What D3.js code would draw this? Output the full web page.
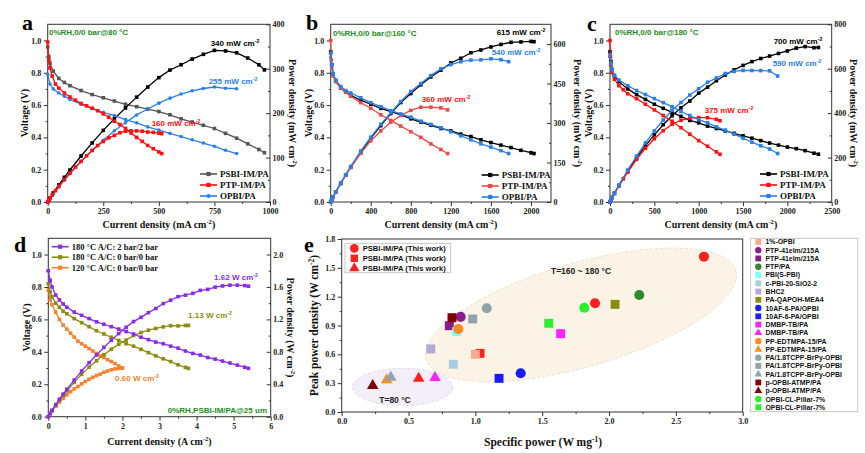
<!DOCTYPE html>
<html><head><meta charset="utf-8">
<script src="https://cdn.jsdelivr.net/npm/d3@7"></script>
<style>body{margin:0;background:#fff}svg{display:block}</style>
</head><body><svg id="c" width="865" height="453"></svg>
<script>
// ---------------- DATA ----------------
// Panel a (80 °C)
const aPsbiI = [0,5,10,25,50,75,100,150,200,250,300,350,400,450,500,550,600,650,700,750,800,850,900,950,975];
const aPsbiV = [0.96,0.90,0.86,0.81,0.765,0.74,0.72,0.69,0.665,0.645,0.625,0.605,0.59,0.575,0.56,0.54,0.515,0.495,0.475,0.455,0.425,0.395,0.36,0.325,0.305];
const aPsbiP = [0,4.5,8.6,20.3,38.3,55.5,72,103.5,133,161.3,187.5,211.8,236,258.8,280,297,309,321.8,332.5,341.3,340,335.8,324,308.8,297.4];
const aPtpI = [0,5,10,20,35,50,75,100,125,150,175,200,225,250,275,300,325,350,375,400,425,450,475,500,513];
const aPtpV = [0.99,0.88,0.83,0.78,0.73,0.705,0.675,0.65,0.63,0.61,0.595,0.58,0.565,0.545,0.525,0.50,0.48,0.455,0.427,0.40,0.375,0.35,0.33,0.31,0.30];
const aPtpP = [0,4.4,8.3,15.6,25.6,35.3,50.6,65,78.8,91.5,104.1,116,127.1,136.3,144.4,150,156,159.3,160.1,160,159.4,157.5,156.8,155,153.9];
const aOpbiI = [0,10,25,50,75,100,150,200,250,300,350,400,450,500,550,600,650,700,750,800,850];
const aOpbiV = [0.79,0.73,0.70,0.675,0.655,0.635,0.605,0.58,0.555,0.535,0.51,0.49,0.465,0.445,0.425,0.405,0.385,0.365,0.345,0.32,0.30];
const aOpbiP = [0,7.3,17.5,33.8,49.1,63.5,90.8,116,138.8,160.5,178.5,196,209.3,222.5,233.8,243,250.3,255.5,258.8,256,255];
// Panel b (160 °C)
const bPsbiI = [0,10,25,50,100,150,200,300,400,500,600,700,800,900,1000,1100,1200,1300,1400,1500,1600,1700,1800,1900,2000,2030];
const bPsbiV = [0.93,0.85,0.79,0.75,0.705,0.68,0.66,0.63,0.605,0.58,0.56,0.54,0.515,0.495,0.475,0.455,0.44,0.42,0.405,0.385,0.368,0.352,0.337,0.32,0.305,0.30];
const bPsbiP = [0,8.5,19.8,37.5,70.5,102,132,189,242,290,336,378,412,445.5,475,500.5,528,546,567,577.5,588.8,598.4,606.6,608,610,609];
const bPtpI = [0,5,10,25,50,100,150,200,300,400,500,600,700,800,900,1000,1100,1167];
const bPtpV = [1.0,0.88,0.83,0.78,0.745,0.705,0.68,0.655,0.615,0.58,0.54,0.505,0.47,0.435,0.40,0.36,0.325,0.30];
const bPtpP = [0,4.4,8.3,19.5,37.3,70.5,102,131,184.5,232,270,303,329,348,360,360,357.5,350];
const bOpbiI = [0,10,25,50,100,150,200,300,400,500,600,700,800,900,1000,1100,1200,1300,1400,1500,1600,1700,1777];
const bOpbiV = [0.92,0.85,0.795,0.755,0.715,0.69,0.675,0.645,0.615,0.59,0.565,0.545,0.525,0.50,0.48,0.46,0.435,0.41,0.385,0.36,0.34,0.318,0.30];
const bOpbiP = [0,8.5,19.9,37.8,71.5,103.5,135,193.5,246,295,339,381.5,420,450,480,506,522,533,539,540,544,540.6,533.1];
// Panel c (180 °C)
const cPsbiI = [0,10,25,50,100,200,300,400,500,600,700,800,900,1000,1100,1200,1300,1400,1500,1600,1700,1800,1900,2000,2100,2200,2300,2350];
const cPsbiV = [0.93,0.87,0.82,0.78,0.745,0.70,0.665,0.635,0.605,0.58,0.555,0.53,0.505,0.49,0.47,0.455,0.44,0.425,0.41,0.395,0.38,0.365,0.352,0.34,0.33,0.318,0.302,0.296];
const cPsbiP = [0,8.7,20.5,39,74.5,140,199.5,254,302.5,348,388.5,424,454.5,490,517,546,572,595,615,632,646,657,668.8,680,693,699.6,694.6,695.6];
const cPtpI = [0,5,10,25,50,100,150,200,300,400,500,600,700,800,900,1000,1100,1200,1240];
const cPtpV = [1.0,0.90,0.85,0.80,0.76,0.72,0.695,0.67,0.64,0.605,0.57,0.535,0.50,0.46,0.42,0.38,0.345,0.31,0.295];
const cPtpP = [0,4.5,8.5,20,38,72,104.3,134,192,242,285,321,350,368,378,380,379.5,372,365.8];
const cOpbiI = [0,10,25,50,100,200,300,400,500,600,700,800,900,1000,1100,1200,1300,1400,1500,1600,1700,1800,1890];
const cOpbiV = [0.91,0.86,0.82,0.785,0.755,0.72,0.69,0.665,0.64,0.615,0.59,0.56,0.535,0.51,0.49,0.465,0.445,0.42,0.395,0.37,0.348,0.328,0.30];
const cOpbiP = [0,8.6,20.5,39.3,75.5,144,207,266,320,369,413,448,481.5,510,539,558,578.5,588,592.5,592,591.6,590.4,567];
// Panel d (A cm-2, V, W cm-2)
const dP2I = [0,0.05,0.1,0.2,0.3,0.4,0.5,0.7,0.9,1.1,1.3,1.5,1.7,1.9,2.1,2.3,2.5,2.7,2.9,3.1,3.3,3.5,3.7,3.9,4.1,4.3,4.5,4.7,4.9,5.1,5.3,5.4];
const dP2V = [0.90,0.84,0.80,0.75,0.72,0.695,0.675,0.645,0.625,0.605,0.585,0.57,0.555,0.54,0.525,0.51,0.49,0.475,0.46,0.45,0.435,0.423,0.405,0.39,0.38,0.365,0.355,0.343,0.331,0.318,0.305,0.298];
const dP2P = [0,0.042,0.08,0.15,0.216,0.278,0.338,0.452,0.563,0.666,0.761,0.855,0.944,1.026,1.103,1.173,1.225,1.283,1.334,1.395,1.436,1.481,1.499,1.521,1.558,1.570,1.598,1.612,1.622,1.622,1.617,1.609];
const dO0I = [0,0.05,0.1,0.2,0.3,0.4,0.5,0.7,0.9,1.1,1.3,1.5,1.7,1.9,2.1,2.3,2.5,2.7,2.9,3.1,3.3,3.5,3.7,3.78];
const dO0V = [0.82,0.77,0.74,0.70,0.675,0.65,0.635,0.605,0.58,0.555,0.53,0.51,0.49,0.47,0.45,0.435,0.415,0.395,0.375,0.357,0.34,0.32,0.304,0.298];
const dO0P = [0,0.039,0.074,0.14,0.203,0.26,0.318,0.424,0.522,0.611,0.689,0.765,0.833,0.893,0.945,1.001,1.038,1.067,1.088,1.107,1.122,1.12,1.125,1.126];
const dT120I = [0,0.05,0.1,0.2,0.3,0.4,0.5,0.6,0.7,0.8,0.9,1.0,1.1,1.2,1.3,1.4,1.5,1.6,1.7,1.8,1.9,2.0];
const dT120V = [0.78,0.72,0.69,0.645,0.60,0.565,0.54,0.515,0.49,0.465,0.45,0.435,0.42,0.405,0.39,0.375,0.365,0.352,0.34,0.328,0.313,0.30];
const dT120P = [0,0.036,0.069,0.129,0.18,0.226,0.27,0.309,0.343,0.372,0.405,0.435,0.462,0.486,0.507,0.525,0.548,0.563,0.578,0.590,0.595,0.60];
// Series names and peak labels
const abcNames = ["PSBI-IM/PA","PTP-IM/PA","OPBI/PA"];
const dNames = ["180 °C A/C: 2 bar/2 bar","180 °C A/C: 0 bar/0 bar","120 °C A/C: 0 bar/0 bar"];
const aPeaks = ["340","255","160"], bPeaks = ["615","540","360"], cPeaks = ["700","590","375"], dPeaks = ["1.62","1.13","0.60"];
const condLabels = ["0%RH,0/0 bar@80 °C","0%RH,0/0 bar@160 °C","0%RH,0/0 bar@180 °C","0%RH,PSBI-IM/PA@25 um"];
// Panel e
const eThisX = [2.71,1.895,1.035,0.576];
const eThisY = [1.616,1.131,0.61,0.35];
const eThisShape = ["circle","circle","square","triangle"];
const eThisLegend = ["PSBI-IM/PA (This work)","PSBI-IM/PA (This work)","PSBI-IM/PA (This work)"];
const eRefNames = ["1%-OPBI","PTP-41elm/215A","PTP-41elm/215A","PTP/PA","PBI(S-PBI)","c-PBI-20-SiO2-2","BHC2","PA-QAPOH-MEA4","10AF-6-PA/OPBI","10AF-6-PA/OPBI","DMBP-TB/PA","DMBP-TB/PA","PP-EDTMPA-15/PA","PP-EDTMPA-15/PA","PA/1.8TCPP-BrPy-OPBI","PA/1.8TCPP-BrPy-OPBI","PA/1.8TCPP-BrPy-OPBI","p-OPBI-ATMP/PA","p-OPBI-ATMP/PA","OPBI-CL-Pillar-7%","OPBI-CL-Pillar-7%"];
const eRefShapes = ["square","circle","square","circle","square","square","square","square","circle","square","square","triangle","circle","triangle","circle","square","triangle","square","triangle","circle","square"];
const eRefColors = ["#f9a98c","#8b1c8b","#861e86","#2e8b2e","#80ffff","#a8cce0","#b4a8d4","#8c8c14","#1a1aff","#1a1aff","#ff22ff","#ff22ff","#ff8c1a","#ff8c1a","#8fa4aa","#8fa4aa","#8fa4b4","#800000","#800000","#2aef2a","#2aef2a"];
const eRefX = [1.0,0.89,0.805,2.226,0.86,0.835,0.666,2.045,1.339,1.177,1.638,0.698,0.873,0.337,1.085,0.98,0.367,0.825,0.232,1.815,1.549];
const eRefY = [0.60,0.99,0.898,1.217,0.836,0.496,0.656,1.12,0.403,0.35,0.815,0.357,0.864,0.333,1.079,0.968,0.361,0.981,0.274,1.085,0.923];
const eZoneLabels = ["T=160 ~ 180 °C","T=80 °C"];
const eZoneCx = [1.79,0.456], eZoneCy = [1.01,0.26];

// ---------------- DRAWING ----------------
const FS = "'Liberation Serif','Times New Roman',serif";
const SS = "'Liberation Sans',Arial,Helvetica,sans-serif";
const svg = d3.select("#c");
svg.append("rect").attr("width",865).attr("height",453).attr("fill","#fff");

function rich(g, x, y, segs, size, color, anchor, family, rot) {
  const t = g.append("text").attr("font-family", family).attr("font-weight","bold")
    .attr("font-size", size).attr("fill", color).attr("text-anchor", anchor || "start");
  if (rot) t.attr("transform", `translate(${x},${y}) rotate(${rot})`);
  else t.attr("x", x).attr("y", y);
  let up = false;
  segs.forEach(s => {
    const isSup = s[1];
    const ts = t.append("tspan").text(s[0]);
    if (isSup && !up) { ts.attr("dy", -size*0.38).attr("font-size", size*0.65); up = true; }
    else if (isSup) { ts.attr("font-size", size*0.65); }
    else if (up) { ts.attr("dy", size*0.38); up = false; }
  });
  return t;
}

function axis(g, scale, orient, pos, ticks, minor, fmt, fsz) {
  const mk = orient === "bottom" ? d3.axisBottom : orient === "left" ? d3.axisLeft : d3.axisRight;
  const tr = orient === "bottom" ? `translate(0,${pos})` : `translate(${pos},0)`;
  const inward = orient === "right";
  const a = g.append("g").attr("transform", tr).call(mk(scale).tickValues(ticks).tickSize(inward ? -4 : 4).tickPadding(2.5).tickFormat(fmt));
  a.select(".domain").remove();
  a.selectAll("line").attr("stroke", "#333");
  a.selectAll("text").attr("font-family", FS).attr("font-weight", "bold").attr("font-size", fsz).attr("fill", "#222");
  const b = g.append("g").attr("transform", tr).call(mk(scale).tickValues(minor).tickSize(inward ? -2 : 2).tickFormat(""));
  b.select(".domain").remove();
  b.selectAll("line").attr("stroke", "#333");
}

function marks(g, pts, color, shape, size, lw) {
  g.append("path").attr("d", d3.line()(pts)).attr("fill","none").attr("stroke",color).attr("stroke-width",lw);
  if (shape === "circle") {
    g.selectAll(null).data(pts).enter().append("circle")
      .attr("cx", p => p[0]).attr("cy", p => p[1]).attr("r", size/2).attr("fill", color);
  } else {
    g.selectAll(null).data(pts).enter().append("rect")
      .attr("x", p => p[0]-size/2).attr("y", p => p[1]-size/2).attr("width", size).attr("height", size).attr("fill", color);
  }
}

function dualPanel(c) {
  const g = svg.append("g");
  const x = d3.scaleLinear().domain(c.xDomain).range([c.left, c.right]);
  const yV = d3.scaleLinear().domain([0, 1.1]).range([c.bottom, c.top]);
  const yP = d3.scaleLinear().domain(c.pDomain).range([c.bottom, c.top]);
  axis(g, x, "bottom", c.bottom, c.xTicks, c.xMinor, c.xFmt, 8);
  axis(g, yV, "left", c.left, [0,0.2,0.4,0.6,0.8,1.0], [0.1,0.3,0.5,0.7,0.9], d3.format(".1f"), 8);
  axis(g, yP, "right", c.right, c.pTicks, c.pMinor, c.pFmt, 8);
  g.append("rect").attr("x", c.left).attr("y", c.top).attr("width", c.right-c.left).attr("height", c.bottom-c.top)
    .attr("fill","none").attr("stroke","#333").attr("stroke-width",1);
  c.series.forEach(s => {
    marks(g, s.I.map((d,i) => [x(d), yV(s.V[i])]), s.vColor, s.shape, 3.6, 1.3);
    marks(g, s.I.map((d,i) => [x(d), yP(s.P[i])]), s.pColor, s.shape, 3.6, 1.3);
  });
  // legend
  c.legendOrder.forEach((si, k) => {
    const s = c.series[si];
    const ly = c.legY + k*c.legDy;
    g.append("line").attr("x1", c.legX).attr("x2", c.legX+17).attr("y1", ly).attr("y2", ly).attr("stroke", s.vColor).attr("stroke-width", 1.6);
    marks(g, [[c.legX+8.5, ly]], s.vColor, s.shape, 4.2, 0);
    g.append("text").attr("x", c.legX+20).attr("y", ly+3).attr("font-family", FS).attr("font-weight","bold")
      .attr("font-size", c.legFs).attr("fill", "#111").text(s.name);
  });
  // peaks
  c.peaks.forEach(p => rich(g, p.x, p.y, [[p.text + (c.unit), false], ["-2", true]], 8, p.color, "middle", SS));
  // condition
  g.append("text").attr("x", c.condX).attr("y", c.condY).attr("font-family", SS).attr("font-weight","bold")
    .attr("font-size", 8).attr("fill", "#1e8c1e").attr("text-anchor", c.condAnchor).text(c.cond);
  // letter
  g.append("text").attr("x", c.letterX).attr("y", c.letterY).attr("font-family", FS).attr("font-weight","bold")
    .attr("font-size", 22).attr("fill", "#000").text(c.letter);
  // axis labels
  const mid = (c.top + c.bottom)/2;
  rich(g, c.vLabX, mid, [["Voltage (V)", false]], 10, "#111", "middle", FS, -90);
  rich(g, c.pLabX, mid, [[c.pLabel, false], ["-2", true], [")", false]], 10, "#111", "middle", FS, 90);
  rich(g, (c.left+c.right)/2, c.xLabY, [[c.xLabel, false], ["-2", true], [")", false]], 10, "#111", "middle", FS);
}

const RED = "#ff1010", BLUE = "#2b7fe6";
const fmtD = d3.format("d"), fmt1 = d3.format(".1f");

dualPanel({letter:"a", letterX:22, letterY:30, left:47.7, right:270, top:24.3, bottom:202,
  xDomain:[0,1000], xTicks:[0,250,500,750,1000], xMinor:[125,375,625,875], xFmt:fmtD,
  pDomain:[0,400], pTicks:[0,100,200,300,400], pMinor:[50,150,250,350], pFmt:fmtD,
  series:[
    {name:abcNames[0], I:aPsbiI, V:aPsbiV, P:aPsbiP, vColor:"#555555", pColor:"#000", shape:"square"},
    {name:abcNames[2], I:aOpbiI, V:aOpbiV, P:aOpbiP, vColor:BLUE, pColor:BLUE, shape:"circle"},
    {name:abcNames[1], I:aPtpI, V:aPtpV, P:aPtpP, vColor:RED, pColor:RED, shape:"square"}],
  legendOrder:[0,2,1], legX:200, legY:174, legDy:11, legFs:9,
  unit:" mW cm",
  peaks:[{text:aPeaks[0], x:235, y:46, color:"#000"},{text:aPeaks[1], x:233, y:84, color:BLUE},{text:aPeaks[2], x:176, y:126, color:RED}],
  cond:condLabels[0], condX:49, condY:35, condAnchor:"start",
  vLabX:28, pLabX:289, xLabY:228, pLabel:"Power density (mW cm", xLabel:"Current density (mA cm"});

const RED_B = "#f04848";
dualPanel({letter:"b", letterX:306, letterY:30, left:330.7, right:551, top:24.3, bottom:202,
  xDomain:[0,2200], xTicks:[0,400,800,1200,1600,2000], xMinor:[200,600,1000,1400,1800], xFmt:fmtD,
  pDomain:[0,675], pTicks:[0,150,300,450,600], pMinor:[75,225,375,525], pFmt:fmtD,
  series:[
    {name:abcNames[0], I:bPsbiI, V:bPsbiV, P:bPsbiP, vColor:"#000", pColor:"#000", shape:"square"},
    {name:abcNames[1], I:bPtpI, V:bPtpV, P:bPtpP, vColor:RED_B, pColor:RED_B, shape:"square"},
    {name:abcNames[2], I:bOpbiI, V:bOpbiV, P:bOpbiP, vColor:BLUE, pColor:BLUE, shape:"square"}],
  legendOrder:[0,1,2], legX:481.7, legY:175, legDy:11, legFs:9,
  unit:" mW cm",
  peaks:[{text:bPeaks[0], x:521, y:35, color:"#000"},{text:bPeaks[1], x:516, y:55, color:BLUE},{text:bPeaks[2], x:446, y:102, color:RED}],
  cond:condLabels[1], condX:333, condY:35.5, condAnchor:"start",
  vLabX:311.5, pLabX:574, xLabY:228, pLabel:"Power density (mW cm", xLabel:"Current density (mA cm"});

dualPanel({letter:"c", letterX:587, letterY:31, left:610, right:831.7, top:24.3, bottom:202,
  xDomain:[0,2500], xTicks:[0,500,1000,1500,2000,2500], xMinor:[250,750,1250,1750,2250], xFmt:fmtD,
  pDomain:[0,800], pTicks:[0,200,400,600,800], pMinor:[100,300,500,700], pFmt:fmtD,
  series:[
    {name:abcNames[0], I:cPsbiI, V:cPsbiV, P:cPsbiP, vColor:"#000", pColor:"#000", shape:"square"},
    {name:abcNames[1], I:cPtpI, V:cPtpV, P:cPtpP, vColor:RED, pColor:RED, shape:"square"},
    {name:abcNames[2], I:cOpbiI, V:cOpbiV, P:cOpbiP, vColor:BLUE, pColor:BLUE, shape:"square"}],
  legendOrder:[0,1,2], legX:760, legY:174, legDy:11, legFs:9,
  unit:" mW cm",
  peaks:[{text:cPeaks[0], x:798, y:44, color:"#000"},{text:cPeaks[1], x:797, y:66, color:BLUE},{text:cPeaks[2], x:729, y:113, color:RED}],
  cond:condLabels[2], condX:615, condY:35, condAnchor:"start",
  vLabX:591.5, pLabX:850, xLabY:228, pLabel:"Power density (mW cm", xLabel:"Current density (mA cm"});

const PURPLE = "#8a2be8", OLIVE = "#8b8b10", ORANGE = "#f4822e";
dualPanel({letter:"d", letterX:14, letterY:252, left:48.3, right:270.7, top:238.3, bottom:416.7,
  xDomain:[0,6], xTicks:[0,1,2,3,4,5,6], xMinor:[0.5,1.5,2.5,3.5,4.5,5.5], xFmt:fmtD,
  pDomain:[0,2.2], pTicks:[0,0.4,0.8,1.2,1.6,2.0], pMinor:[0.2,0.6,1.0,1.4,1.8], pFmt:fmt1,
  series:[
    {name:dNames[2], I:dT120I, V:dT120V, P:dT120P, vColor:ORANGE, pColor:ORANGE, shape:"square"},
    {name:dNames[1], I:dO0I, V:dO0V, P:dO0P, vColor:OLIVE, pColor:OLIVE, shape:"square"},
    {name:dNames[0], I:dP2I, V:dP2V, P:dP2P, vColor:PURPLE, pColor:PURPLE, shape:"square"}],
  legendOrder:[2,1,0], legX:51.7, legY:246.7, legDy:10.5, legFs:8.5,
  unit:" W cm",
  peaks:[{text:dPeaks[0], x:236, y:280, color:PURPLE},{text:dPeaks[1], x:210, y:318, color:OLIVE},{text:dPeaks[2], x:137, y:381, color:ORANGE}],
  cond:condLabels[3], condX:267, condY:413, condAnchor:"end",
  vLabX:30, pLabX:287, xLabY:445, pLabel:"Power density (W cm", xLabel:"Current density (A cm"});

// ---------------- Panel e ----------------
(function(){
  const L = 341.7, R = 742.7, T = 239, B = 412;
  const g = svg.append("g");
  const x = d3.scaleLinear().domain([0,3]).range([L,R]);
  const y = d3.scaleLinear().domain([0,1.8]).range([B,T]);
  // zones
  const zoneRx = [161,50], zoneRy = [52,18.7], zoneRot = [-16,0];
  const zoneFill = ["#faf3e6","#f4eef8"], zoneStroke = ["#e6dcc8","#dcd0e6"];
  eZoneCx.forEach((cx,i) => {
    g.append("ellipse").attr("cx",0).attr("cy",0).attr("rx",zoneRx[i]).attr("ry",zoneRy[i])
      .attr("transform",`translate(${x(cx)},${y(eZoneCy[i])}) rotate(${zoneRot[i]})`)
      .attr("fill",zoneFill[i]).attr("stroke",zoneStroke[i]).attr("stroke-dasharray","3,2").attr("stroke-width",0.8);
  });
  g.append("text").attr("x", 581).attr("y", 274).attr("text-anchor","middle").attr("font-family",SS).attr("font-weight","bold").attr("font-size",8.5).attr("fill","#222").text(eZoneLabels[0]);
  g.append("text").attr("x", 395).attr("y", 402.5).attr("text-anchor","middle").attr("font-family",SS).attr("font-weight","bold").attr("font-size",8.5).attr("fill","#222").text(eZoneLabels[1]);
  axis(g, x, "bottom", B, [0,0.5,1,1.5,2,2.5,3], [0.25,0.75,1.25,1.75,2.25,2.75], fmt1, 8);
  axis(g, y, "left", L, [0,0.3,0.6,0.9,1.2,1.5,1.8], [0.15,0.45,0.75,1.05,1.35,1.65], fmt1, 8);
  g.append("rect").attr("x",L).attr("y",T).attr("width",R-L).attr("height",B-T).attr("fill","none").attr("stroke","#333");
  const area = {circle:80, square:80, triangle:58};
  const sym = {circle:d3.symbolCircle, square:d3.symbolSquare, triangle:d3.symbolTriangle};
  function pt(gg, px, py, shape, color, a) {
    gg.append("path").attr("d", d3.symbol(sym[shape], a)()).attr("transform", `translate(${px},${py})`).attr("fill", color);
  }
  eThisX.forEach((v,i) => pt(g, x(v), y(eThisY[i]), eThisShape[i], "#ff2020", area[eThisShape[i]]));
  eRefX.forEach((v,i) => pt(g, x(v), y(eRefY[i]), eRefShapes[i], eRefColors[i], area[eRefShapes[i]]));
  // inner legend
  g.append("rect").attr("x",345).attr("y",243.3).attr("width",105.7).attr("height",29.4).attr("fill","#fff").attr("stroke","#bbb").attr("stroke-width",0.8);
  ["circle","square","triangle"].forEach((sh,i) => {
    const ly = 248.3 + i*10;
    pt(g, 354.3, ly, sh, "#ff2020", {circle:60, square:55, triangle:48}[sh]);
    g.append("text").attr("x",362.7).attr("y",ly+2.8).attr("font-family",SS).attr("font-weight","bold").attr("font-size",7.6).attr("fill","#111").text(eThisLegend[i]);
  });
  // outer legend
  g.append("rect").attr("x",750.7).attr("y",238.3).attr("width",107).attr("height",173.4).attr("fill","#fff").attr("stroke","#bbb").attr("stroke-width",0.8);
  eRefNames.forEach((nm,i) => {
    const ly = 241.9 + i*8.27;
    pt(g, 758.3, ly, eRefShapes[i], eRefColors[i], {circle:32, square:34, triangle:26}[eRefShapes[i]]);
    g.append("text").attr("x",765.5).attr("y",ly+2.5).attr("font-family",SS).attr("font-weight","bold").attr("font-size",6.9).attr("fill","#111").text(nm);
  });
  g.append("text").attr("x",304).attr("y",252).attr("font-family",FS).attr("font-weight","bold").attr("font-size",22).text("e");
  rich(g, 318, (T+B)/2, [["Peak power density (W cm", false], ["-2", true], [")", false]], 11.5, "#111", "middle", FS, -90);
  rich(g, 543, 446, [["Specific power (W mg", false], ["-1", true], [")", false]], 11.5, "#111", "middle", FS);
})();
</script></body></html>
